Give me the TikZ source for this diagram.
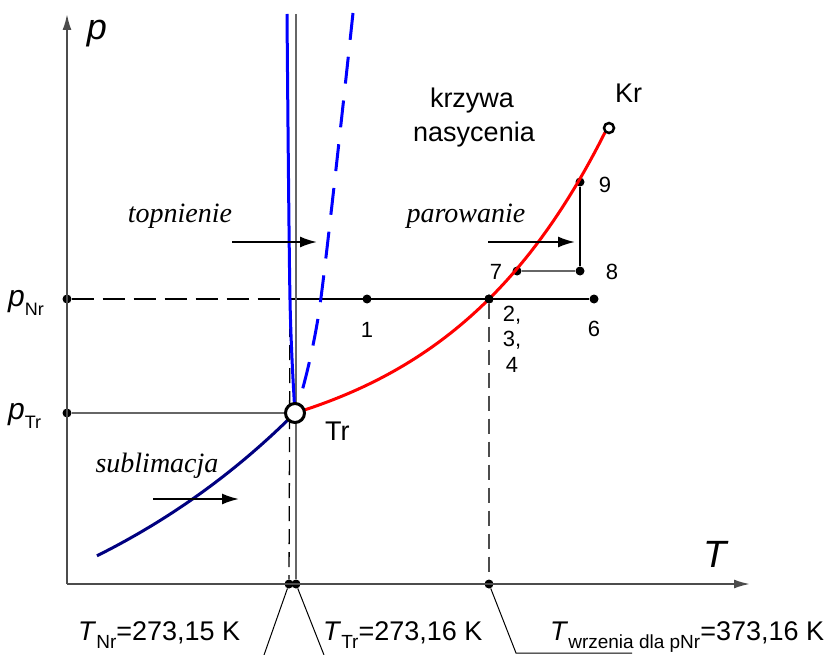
\documentclass[tikz,border=0pt]{standalone}
\usepackage{fontspec}
\setmainfont{Liberation Sans}
\newfontfamily\serifit{Liberation Serif}
\usetikzlibrary{arrows.meta}

\definecolor{granat}{RGB}{0,0,128}
\newcommand{\lo}[2][19]{\raisebox{-0.3em}{\fontsize{#1}{#1}\selectfont #2}}

\begin{document}
\begin{tikzpicture}[x=1pt, y=-1pt,
    lbl/.style={font=\fontsize{27}{32}\selectfont, inner sep=0pt},
    num/.style={font=\fontsize{22}{26}\selectfont, inner sep=0pt, anchor=base},
    proc/.style={font=\fontsize{28}{32}\selectfont\serifit\itshape, inner sep=0pt, anchor=base},
    kropka/.style={circle, fill=black, inner sep=0pt, minimum size=9pt},
    strzalka/.style={line width=2pt, -{Latex[length=17pt,width=11pt]}},
    os/.style={line width=2pt, black!70, -{Latex[length=16pt,width=9pt]}},
    prz/.style={dash pattern=on 15pt off 8pt}]
  \useasboundingbox (0,0) rectangle (829,655);

  % punkty charakterystyczne
  \coordinate (O) at (67,584);
  \coordinate (ytop) at (67,14);
  \coordinate (xend) at (750,584);
  \coordinate (Tr) at (295,413);
  \coordinate (Kr) at (609,128);
  \coordinate (top) at (296,14);
  \coordinate (mNr) at (290,299);

  \node[kropka] (pNr) at (67,299) {};
  \node[kropka] (pTr) at (67,413) {};
  \node[kropka] (d1) at (367,299) {};
  \node[kropka] (d2) at (489,299) {};
  \node[kropka] (d6) at (594,299) {};
  \node[kropka] (d7) at (517,271) {};
  \node[kropka] (d8) at (580,271) {};
  \node[kropka] (d9) at (580,182) {};
  \node[kropka] (xNr) at (289,584) {};
  \node[kropka] (xTr) at (296,584) {};
  \node[kropka] (xwr) at (489,584) {};

  % osie
  \draw[os] (O) -- (ytop);
  \draw[os] (O) -- (xend);
  \node[font=\fontsize{36}{40}\selectfont\itshape, inner sep=0pt, anchor=base] (lp) at (97,40) {p};
  \node[font=\fontsize{38}{40}\selectfont\itshape, inner sep=0pt, anchor=base] (lT) at (715,567) {T};

  % linie pomocnicze
  \draw[line width=1.3pt, dash pattern=on 22pt off 9pt] (pNr) -- (mNr);
  \draw[line width=1.3pt] (mNr) -- (d6);
  \draw[line width=1.5pt, black!60] (pTr) -- (Tr);
  \draw[line width=1.5pt, black!60] (top) -- (xTr);
  \draw[line width=1.3pt, prz] (mNr) -- (xNr);
  \draw[line width=1.3pt, black!70, prz] (d2) -- (xwr);
  \draw[line width=1.5pt, black!60] (d7) -- (d8);
  \draw[line width=1.5pt] (d8) -- (d9);

  % krzywe
  \draw[blue, line width=3pt] plot[smooth] coordinates {(295,413) (290,300) (287,14)};
  \draw[blue, line width=3pt, dash pattern=on 27pt off 17pt] plot[smooth] coordinates {(353,13) (320,305) (298,405)};
  \draw[granat, line width=3pt] plot[domain=97:295, samples=50] (\x, {413+286*(1-exp(0.0035*(\x-295)))});
  \draw[red, line width=3pt] plot[domain=295:605, samples=60] (\x, {413-51.8*(exp(0.006*(\x-295))-1)});

  \draw[line width=3pt, fill=white] (Tr) circle (9.5pt);
  \draw[line width=2.5pt, fill=white] (Kr) circle (5pt);
  \node[kropka] at (d2) {};

  % strzalki przemian
  \coordinate (a1) at (232,242); \coordinate (b1) at (317,242);
  \coordinate (a2) at (488,242); \coordinate (b2) at (575,242);
  \coordinate (a3) at (153,499); \coordinate (b3) at (239,499);
  \draw[strzalka] (a1) -- (b1);
  \draw[strzalka] (a2) -- (b2);
  \draw[strzalka] (a3) -- (b3);

  \node[proc] (ltop) at (180,222) {topnienie};
  \node[proc] (lpar) at (466,222) {parowanie};
  \node[proc] (lsub) at (157,472) {sublimacja};

  % opisy
  \node[lbl, anchor=base] (lkrz) at (472,108) {krzywa};
  \node[lbl, anchor=base] (lnas) at (474,142) {nasycenia};
  \node[lbl, anchor=base west] (lKr) at (615,103) {Kr};
  \node[lbl, anchor=base west] (lTr) at (325,440) {Tr};

  \node[num] (n1) at (367,337) {1};
  \node[num] (n2) at (512,321) {2,};
  \node[num] (n3) at (512,346) {3,};
  \node[num] (n4) at (512,372) {4};
  \node[num] (n6) at (594,336) {6};
  \node[num] (n7) at (496,279) {7};
  \node[num] (n8) at (612,279) {8};
  \node[num] (n9) at (605,193) {9};

  \node[font=\fontsize{30}{32}\selectfont, inner sep=0pt, anchor=base west] (lpNr) at (8,306) {\textit{p}\lo[18]{Nr}};
  \node[font=\fontsize{30}{32}\selectfont, inner sep=0pt, anchor=base west] (lpTr) at (8,419) {\textit{p}\lo[18]{Tr}};

  % temperatury
  \coordinate (e1) at (264,655);
  \coordinate (e2) at (324,655);
  \coordinate (e3) at (516,653);
  \coordinate (e4) at (632,653);
  \draw[line width=1pt] (xNr) -- (e1);
  \draw[line width=1pt] (xTr) -- (e2);
  \draw[line width=1pt] (xwr) -- (e3) -- (e4);

  \node[lbl, anchor=base west] (tNr) at (78,640) {\textit{T}\lo{Nr}=273,15 K};
  \node[lbl, anchor=base west] (tTr) at (323,640) {\textit{T}\lo{Tr}=273,16 K};
  \node[lbl, anchor=base west] (twr) at (550,640) {\textit{T}\lo{wrzenia dla pNr}=373,16 K};
\end{tikzpicture}
\end{document}
